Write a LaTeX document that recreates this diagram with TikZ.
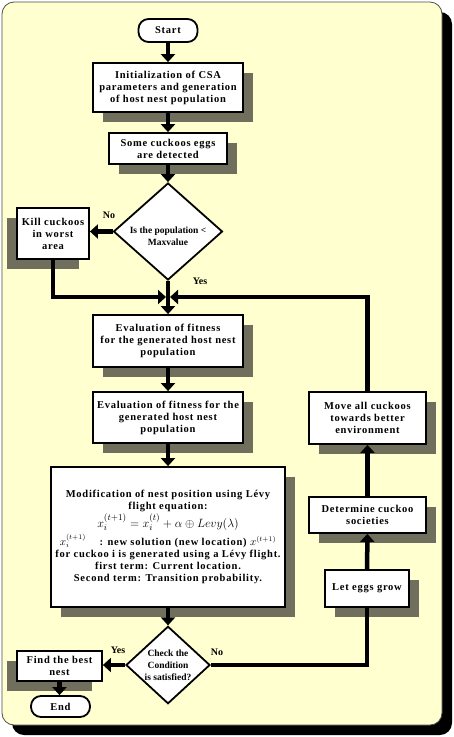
\documentclass[tikz,border=0pt]{standalone}
\usepackage{fontspec}
\setmainfont{Liberation Serif}
\newfontfamily\bxfont{Liberation Serif}[LetterSpace=7]
\usetikzlibrary{arrows.meta,shapes.geometric,shadows}
\definecolor{bgyellow}{RGB}{255,255,208}
\definecolor{shadowgray}{RGB}{112,110,92}
\begin{document}
\begin{tikzpicture}[x=1pt,y=-1pt,
  box/.style={draw=black, line width=1.8pt, fill=white, align=center, font=\bxfont\bfseries\fontsize{10.5}{12}\selectfont, inner sep=2pt},
  shadowR/.style={general shadow={fill=shadowgray, shadow xshift=10pt, shadow yshift=-10pt}},
  shadowL/.style={general shadow={fill=shadowgray, shadow xshift=-10pt, shadow yshift=-10pt}},
  term/.style={draw=black, line width=1.8pt, fill=white, rounded corners=10pt, font=\bxfont\bfseries\fontsize{10.5}{12}\selectfont},
  dec/.style={diamond, draw=black, line width=1.8pt, fill=white, align=center, inner sep=0pt, font=\bfseries\fontsize{9.5}{12}\selectfont},
  flow/.style={line width=4.5pt, draw=black, -{Triangle[width=14pt,length=8pt]}},
  plain/.style={line width=4.5pt, draw=black},
  lbl/.style={font=\bfseries\fontsize{10}{12}\selectfont, inner sep=0pt}
]
\useasboundingbox (0,0) rectangle (454,737);
% frame
\fill[black, rounded corners=12pt] (12,12) rectangle (452,735);
\draw[fill=bgyellow, draw=black!70, line width=0.8pt, rounded corners=12pt] (2,2) rectangle (442,725);

% nodes
\node[term, minimum width=59pt, minimum height=23pt] (start) at (168,30.5) {Start};
\node[box, shadowR, minimum width=150pt, minimum height=49pt] (init) at (168,87.5) {Initialization of CSA\\parameters and generation\\of host nest population};
\node[box, shadowR, minimum width=118pt, minimum height=31pt] (eggs) at (168,148.5) {Some cuckoos eggs\\are detected};
\node[dec, inner ysep=-8pt, minimum width=109pt, minimum height=97pt] (dia1) at (168,231.5) {\rule{0pt}{16pt}Is the population <\\Maxvalue};
\node[box, shadowL, minimum width=72pt, minimum height=51pt] (kill) at (53,233.5) {Kill cuckoos\\in worst\\area};
\coordinate (merge) at (168,297);
\node[box, shadowR, minimum width=150pt, minimum height=52pt] (eval1) at (168,341) {Evaluation of fitness\\for the generated host nest\\population};
\node[box, shadowR, minimum width=150pt, minimum height=51pt] (eval2) at (168,417.5) {Evaluation of fitness for the\\generated host nest\\population};
\node[box, shadowR, minimum width=117pt, minimum height=52pt] (move) at (367.5,418) {Move all cuckoos\\towards better\\environment};
\node[box, shadowR, minimum width=234pt, minimum height=140pt] (mod) at (168,537) {Modification of nest position using Lévy\\
flight equation:\\[1pt]
{\normalfont\fontsize{12.5}{14}\selectfont $x_i^{(t+1)} = x_i^{(t)} + \alpha \oplus Levy(\lambda)$}\\[3pt]
$x_i^{(t+1)}$\hspace{1.3em}: new solution (new location) $x^{(t+1)}$\\
for cuckoo i is generated using a Lévy flight.\\
first term: Current location.\\
Second term: Transition probability.};
\node[dec, minimum width=84pt, minimum height=76pt] (dia2) at (168,665) {Check the\\Condition\\is satisfied?};
\node[box, shadowL, minimum width=85pt, minimum height=30pt] (find) at (59.5,666) {Find the best\\nest};
\node[term, minimum width=59pt, minimum height=21pt] (end) at (60.5,706.5) {End};
\node[box, shadowR, minimum width=84pt, minimum height=37pt] (grow) at (367,588.5) {Let eggs grow};
\node[box, shadowR, minimum width=117pt, minimum height=36pt] (det) at (367.5,515) {Determine cuckoo\\societies};

% labels
\node[lbl] (noA) at (109,215) {No};
\node[lbl] (yesA) at (200,281) {Yes};
\node[lbl] (yesB) at (118,650) {Yes};
\node[lbl] (noB) at (217,652) {No};

% connectors
\draw[flow] (start) -- (init);
\draw[flow] (init) -- (eggs);
\draw[flow] (eggs) -- (dia1);
\draw[flow] (dia1.west) -- (kill.east |- dia1.west);
\draw[flow, shorten >=2pt] (kill.south) |- (merge);
\draw[flow] (dia1.south) -- (eval1.north);
\draw[flow, shorten >=2pt] (move.north) |- (merge);
\draw[flow] (eval1) -- (eval2);
\draw[flow] (eval2) -- (mod);
\draw[flow] (mod) -- (dia2);
\draw[flow] (dia2.west) -- (find.east |- dia2.west);
\draw[flow] (find.south) -- (find.south |- end.north);
\draw[plain] (dia2.east) -| (grow.south);
\draw[flow] (grow) -- (det);
\draw[flow] (det) -- (move);
\end{tikzpicture}
\end{document}
